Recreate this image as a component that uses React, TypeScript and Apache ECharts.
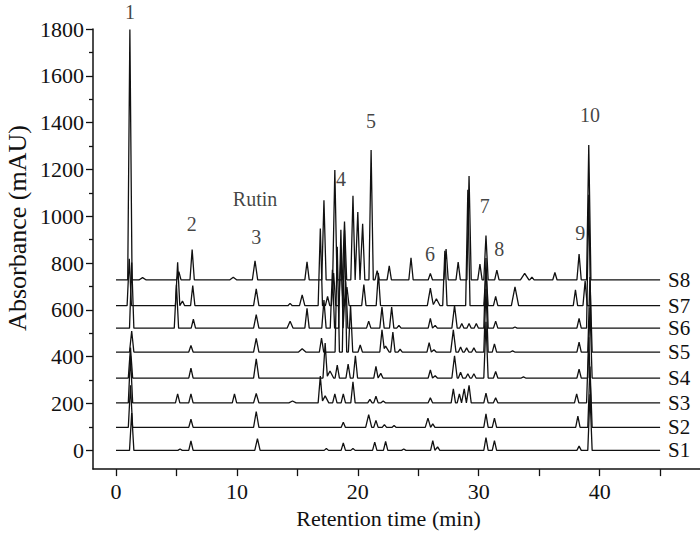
import React, { useEffect, useRef } from "react";
import * as echarts from "echarts";

// ---- data ----
const sampleNames = ["S1", "S2", "S3", "S4", "S5", "S6", "S7", "S8"];
const baselines = [0, 98, 203, 309, 420, 522, 618, 728];

// peaks: [retention time (min), height above baseline (mAU), optional half base width (min)]
const peaksS1 = [[1.3,160],[5.3,6],[6.2,40],[11.7,50,0.22],[17.4,8],[18.8,32],[19.6,8],[21.4,35],[22.3,38],[23.8,6],[26.2,42],[26.6,15],[30.6,55],[31.3,42],[38.3,18],[39.2,240]];
const peaksS2 = [[1.2,180],[6.2,35],[11.6,68,0.22],[18.8,22],[20.9,55,0.25],[21.5,30],[22.2,12],[23.0,8],[25.8,40,0.22],[26.2,15],[30.6,58],[31.3,40],[38.2,48],[39.2,260]];
const peaksS3 = [[1.2,200],[5.1,38],[6.2,38],[9.8,38],[11.6,40,0.22],[14.6,8,0.3],[16.9,115],[17.3,30,0.3],[18.1,38],[18.8,38],[19.6,90],[21.0,15],[21.5,28],[22.1,8],[26.0,22],[27.9,60],[28.4,38],[28.8,60],[29.2,75],[30.6,42],[31.4,22],[38.1,38],[39.1,280]];
const peaksS4 = [[1.2,130],[6.2,42],[11.6,82,0.22],[17.3,150],[17.7,30,0.3],[18.3,55],[19.2,60],[19.8,95],[21.5,50],[21.9,20],[26.0,35],[26.4,10],[28.0,95,0.22],[28.5,25],[29.1,18],[29.6,18],[30.6,240],[31.4,28],[33.7,5],[38.3,38],[39.2,300]];
const peaksS5 = [[1.3,90],[6.2,28],[11.6,58,0.22],[15.4,14,0.3],[17.0,60],[18.3,450],[18.9,520],[19.4,200],[20.2,30],[22.0,95],[22.3,25,0.3],[22.9,85],[23.5,12],[25.9,40],[26.3,10],[27.9,95,0.22],[28.5,22],[29.0,18],[29.6,18],[30.6,270],[31.3,35],[32.8,5],[38.3,42],[39.2,320]];
const peaksS6 = [[1.3,280],[5.0,185],[6.4,38],[11.6,58,0.22],[14.4,30,0.25],[15.8,85],[17.2,120],[17.9,250],[18.6,420],[19.0,200],[20.9,30],[22.0,90],[22.8,90],[23.4,12],[26.0,42],[26.4,12],[28.0,97,0.22],[28.6,20],[29.2,20],[29.8,20],[30.6,300],[31.4,30],[33.0,5],[38.3,42],[39.1,570]];
const peaksS7 = [[1.1,200],[5.1,185],[5.5,20],[6.35,86],[11.6,72,0.22],[14.4,10],[15.4,46,0.22],[16.9,330],[17.5,40],[18.0,140],[18.6,200],[19.1,80],[20.5,90],[21.7,140],[26.0,75,0.25],[26.5,30,0.3],[27.2,235],[29.1,495],[30.6,150],[31.4,40],[33.0,80,0.3],[38.0,68],[38.8,105]];
const peaksS8 = [[1.15,1070],[2.2,10,0.3],[5.2,35],[6.3,130],[9.7,12,0.3],[11.5,82,0.22],[15.8,77],[17.2,340],[18.1,470],[18.9,250],[19.6,360],[20.0,290],[20.4,240],[21.1,555],[21.6,40],[22.6,60],[24.4,95],[26.0,28],[27.3,132],[28.3,76],[29.2,444],[30.1,68],[30.6,190],[31.5,42],[33.8,28,0.35],[34.4,12],[36.3,32],[38.3,111],[39.1,576]];
const allPeaks = [peaksS1, peaksS2, peaksS3, peaksS4, peaksS5, peaksS6, peaksS7, peaksS8];

const runStart = 0;
const runEnd = 45;

// peak annotations: [text, time, absorbance]
const peakLabels: [string, number, number][] = [
  ["1", 1.16, 1873],
  ["2", 6.26, 967],
  ["Rutin", 11.5, 1073],
  ["3", 11.6, 911],
  ["4", 18.6, 1158],
  ["5", 21.1, 1406],
  ["6", 25.97, 840],
  ["7", 30.5, 1045],
  ["8", 31.7, 861],
  ["9", 38.4, 928],
  ["10", 39.2, 1432],
];

const xLabelValues = [0, 10, 20, 30, 40];
const xTickValues = [0, 5, 10, 15, 20, 25, 30, 35, 40, 45];
const yLabelValues = [0, 200, 400, 600, 800, 1000, 1200, 1400, 1600, 1800];
const yMinorValues = [100, 300, 500, 700, 900, 1100, 1300, 1500, 1700];

const FONT = "'Liberation Serif', 'Times New Roman', serif";
const DEFAULT_W = 0.18;

function buildTrace(base: number, peaks: number[][]) {
  const xs = new Set<number>([runStart, runEnd]);
  peaks.forEach((p) => {
    const w = p[2] ?? DEFAULT_W;
    [p[0] - w, p[0], p[0] + w].forEach((x) => xs.add(Math.round(x * 1000) / 1000));
  });
  const sorted = Array.from(xs).sort((a, b) => a - b);
  return sorted.map((x) => {
    let v = base;
    peaks.forEach((p) => {
      const w = p[2] ?? DEFAULT_W;
      v += p[1] * Math.max(0, 1 - Math.abs(x - p[0]) / w);
    });
    return [x, v];
  });
}

export default function App() {
  const ref = useRef<HTMLDivElement>(null);
  useEffect(() => {
    if (!ref.current) return;
    const chart = echarts.init(ref.current, null, { renderer: "svg" });
    const lineSeries = sampleNames.map((name, i) => ({
      name,
      type: "line",
      data: buildTrace(baselines[i], allPeaks[i]),
      showSymbol: false,
      symbol: "none",
      z: 10 - i,
      lineStyle: { color: "#111", width: 1.3 },
      endLabel: {
        show: true,
        formatter: "{a}",
        distance: 8,
        fontFamily: FONT,
        fontSize: 21,
        color: "#111",
      },
    }));
    chart.setOption({
      animation: false,
      backgroundColor: "#fff",
      textStyle: { fontFamily: FONT },
      grid: { left: 93, right: 0, top: 29, bottom: 60, containLabel: false },
      graphic: [
        {
          type: "text",
          x: 17,
          y: 228,
          rotation: Math.PI / 2,
          style: {
            text: "Absorbance (mAU)",
            fontFamily: FONT,
            fontSize: 26,
            fill: "#111",
            align: "center",
            verticalAlign: "middle",
            textAlign: "center",
            textVerticalAlign: "middle",
          },
        },
      ],
      xAxis: {
        type: "value",
        min: -1.9,
        max: 48.3,
        name: "Retention time (min)",
        nameLocation: "middle",
        nameGap: 30,
        nameTextStyle: { fontFamily: FONT, fontSize: 22, color: "#111", padding: [0, 16, 0, 0] },
        axisLine: { show: true, onZero: false, lineStyle: { color: "#111", width: 1.5 } },
        axisTick: { show: true, customValues: xTickValues, length: 7, lineStyle: { color: "#111", width: 1.3 } },
        axisLabel: { customValues: xLabelValues, margin: 11, fontFamily: FONT, fontSize: 22, color: "#111" },
        splitLine: { show: false },
      },
      yAxis: [
        {
          type: "value",
          min: -80,
          max: 1800,
          axisLine: { show: true, onZero: false, lineStyle: { color: "#111", width: 1.5 } },
          axisTick: { show: true, customValues: yLabelValues, length: 7, lineStyle: { color: "#111", width: 1.3 } },
          axisLabel: {
            customValues: yLabelValues,
            margin: 9,
            fontFamily: FONT,
            fontSize: 22,
            color: "#111",
            formatter: (v: number) => String(v),
          },
          splitLine: { show: false },
        },
        {
          type: "value",
          min: -80,
          max: 1800,
          position: "left",
          axisLine: { show: false, onZero: false },
          axisTick: { show: true, customValues: yMinorValues, length: 4, lineStyle: { color: "#111", width: 1.3 } },
          axisLabel: { show: false },
          splitLine: { show: false },
        },
      ],
      series: [
        ...lineSeries,
        {
          name: "peak labels",
          type: "scatter",
          clip: false,
          symbolSize: 0,
          silent: true,
          data: peakLabels.map(([text, t, v]) => ({ name: text, value: [t, v] })),
          label: {
            show: true,
            position: "inside",
            formatter: "{b}",
            fontFamily: FONT,
            fontSize: 20,
            color: "#111",
          },
        },
      ],
    });
    return () => chart.dispose();
  }, []);
  return (
    <div
      ref={ref}
      style={{ position: "absolute", left: 0, top: 0, width: 700, height: 534 }}
    />
  );
}
